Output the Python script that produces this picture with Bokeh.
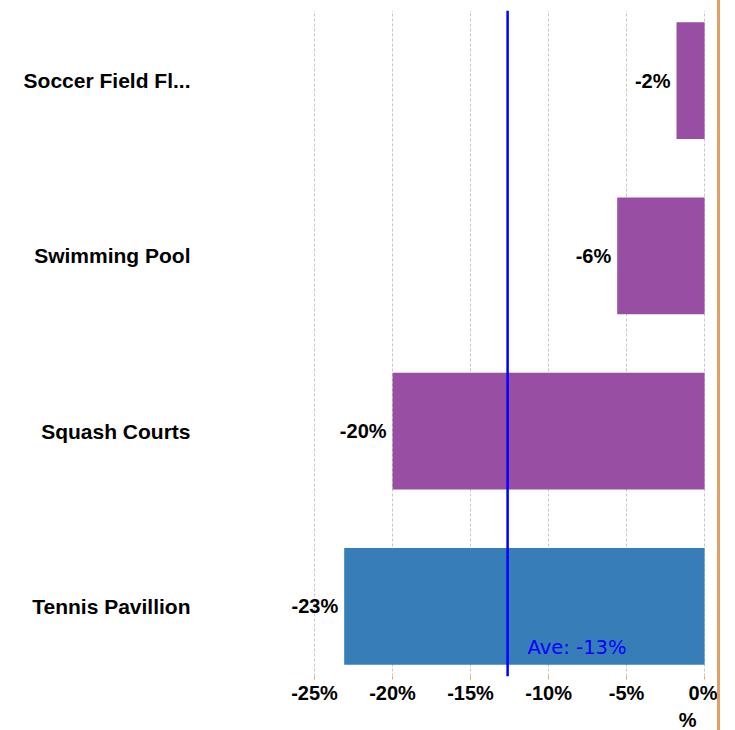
from bokeh.plotting import figure
from bokeh.models import Span, Label, FixedTicker, ColumnDataSource, Title
from bokeh.embed import file_html
from bokeh.resources import INLINE
from bokeh.core.properties import value

# ---- data ----
categories = ["Tennis Pavillion", "Squash Courts", "Swimming Pool", "Soccer Field Fl..."]
changes = [-23.1, -20.0, -5.6, -1.8]
bar_colors = ["#377EB8", "#984EA3", "#984EA3", "#984EA3"]
value_labels = ["-23%", "-20%", "-6%", "-2%"]
x_ticks = [-25, -20, -15, -10, -5, 0]
x_tick_labels = ["-25%", "-20%", "-15%", "-10%", "-5%", "0%"]
ave_text = "Ave: -13%"
axis_title = "%"

positions = list(range(len(categories)))
average = sum(changes) / len(changes)

FONT = "Liberation Sans"
FS = "20px"

src = ColumnDataSource(dict(y=positions, right=changes, color=bar_colors, label=value_labels))

p = figure(width=720, height=730, output_backend="svg", toolbar_location=None,
           x_range=(-32.31, 1.02), y_range=(-0.4, 3.4),
           min_border_left=200, min_border_right=0, min_border_top=10, min_border_bottom=54)
p.styles = {"border-right": "3px solid #E39F63"}
p.outline_line_color = None
p.background_fill_color = "white"
p.border_fill_color = "white"

p.hbar(y="y", left=0, right="right", height=0.667, color="color", source=src, line_color=None)

p.text(x="right", y="y", text="label", source=src, x_offset=-6,
       text_align="right", text_baseline="middle",
       text_font=value(FONT), text_font_style="bold", text_font_size=FS, text_color="black")

ave_span = Span(location=average, dimension="height", line_color="#0000FF", line_width=2.5)
p.add_layout(ave_span)
p.add_layout(Label(x=average, y=29, x_units="data", y_units="screen", x_offset=20,
                   text=ave_text, text_align="left", text_baseline="middle",
                   text_font="DejaVu Sans", text_font_size="19.5px", text_color="#0000FF"))

# x axis
p.xaxis.ticker = FixedTicker(ticks=x_ticks)
p.xaxis.major_label_overrides = {t: l for t, l in zip(x_ticks, x_tick_labels)}
p.xaxis.axis_line_color = None
p.xaxis.major_tick_line_color = "#F0A050"
p.xaxis.major_tick_out = 3
p.xaxis.major_tick_in = 0
p.xaxis.minor_tick_line_color = None
p.xaxis.major_label_standoff = 2
p.xaxis.major_label_text_font = FONT
p.xaxis.major_label_text_font_style = "bold"
p.xaxis.major_label_text_font_size = FS
p.xaxis.major_label_text_color = "black"

# axis title "%" (placed right, under the 0% tick)
p.add_layout(Title(text=axis_title, align="right", offset=24, standoff=0,
                   text_font=FONT, text_font_style="bold", text_font_size=FS,
                   text_color="black"), "below")

# y axis
p.yaxis.ticker = FixedTicker(ticks=positions)
p.yaxis.major_label_overrides = {i: c for i, c in zip(positions, categories)}
p.yaxis.axis_line_color = None
p.yaxis.major_tick_line_color = None
p.yaxis.minor_tick_line_color = None
p.yaxis.major_tick_out = 0
p.yaxis.major_label_standoff = 10
p.yaxis.major_label_text_font = FONT
p.yaxis.major_label_text_font_style = "bold"
p.yaxis.major_label_text_font_size = "21px"
p.yaxis.major_label_text_color = "black"

p.ygrid.grid_line_color = None
p.xgrid.grid_line_color = "#C8C8C8"
p.xgrid.grid_line_dash = "3 2"
p.xgrid.grid_line_width = 1

open("out.html", "w").write(file_html(p, INLINE))
